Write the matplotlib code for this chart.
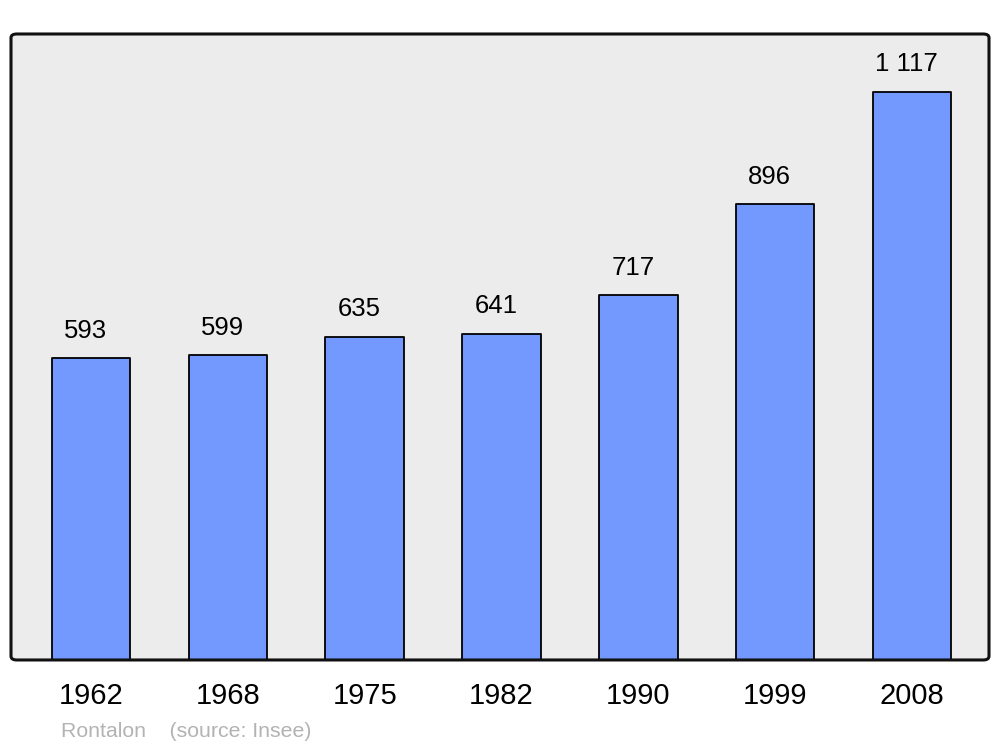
import matplotlib.pyplot as plt
from matplotlib.patches import FancyBboxPatch

plt.rcParams['font.family'] = ['Liberation Sans', 'DejaVu Sans']

years = ['1962', '1968', '1975', '1982', '1990', '1999', '2008']
population = [593, 599, 635, 641, 717, 896, 1117]
value_labels = ['593', '599', '635', '641', '717', '896', '1 117']

fig = plt.figure(figsize=(10, 7.47), dpi=100)
ax = fig.add_axes([0.011, 0.1165, 0.978, 0.838])
ax.set_facecolor('#ececec')

x = range(len(years))
bars = ax.bar(x, population, width=0.575, color='#7399ff', edgecolor='black',
              linewidth=1.3, zorder=2)
for b in bars:
    b.set_joinstyle('round')

for i, (v, lab) in enumerate(zip(population, value_labels)):
    ax.annotate(lab, (i, v), xytext=(-4, 20), textcoords='offset points',
                ha='center', va='center', fontsize=18.5)

ax.set_xlim(-0.585, 6.563)
ax.set_ylim(0, 1231)
ax.set_xticks(list(x))
ax.set_xticklabels(years, fontsize=21)
ax.tick_params(axis='x', length=0, pad=16)
ax.set_yticks([])

for s in ax.spines.values():
    s.set_visible(False)
frame = FancyBboxPatch((0, 0), 1, 1, boxstyle='round,pad=0,rounding_size=0.006',
                       transform=ax.transAxes, fill=False, edgecolor='#111111',
                       linewidth=2.2, clip_on=False, zorder=5)
ax.add_patch(frame)

fig.text(0.061, 0.021, 'Rontalon    (source: Insee)', color='#b3b3b3',
         fontsize=15.3, ha='left', va='center')

fig.savefig('out.png', dpi=100, facecolor='white')
